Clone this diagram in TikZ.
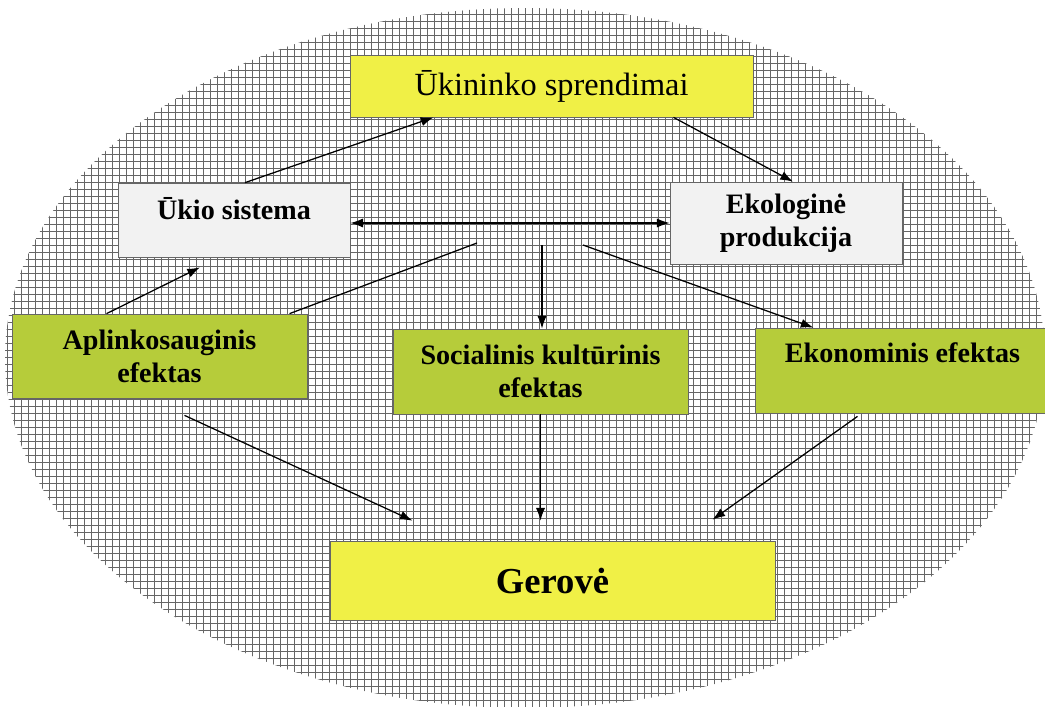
\documentclass[tikz,border=0pt]{standalone}
\usepackage{fontspec}
\setmainfont{Liberation Serif}
\usetikzlibrary{calc,arrows.meta}

\definecolor{yel}{RGB}{240,240,70}
\definecolor{grn}{RGB}{182,204,58}
\definecolor{lgr}{RGB}{242,242,242}
\tikzset{
  box/.style={draw=black!60, line width=0.5pt, inner sep=2pt, align=center,
    font=\bfseries\fontsize{20}{23.5}\selectfont},
  ybox/.style={box, fill=yel},
  gbox/.style={box, fill=grn},
  wbox/.style={box, fill=lgr},
  tip/.tip={Latex[length=9pt,width=6.5pt]},
  arr/.style={-tip, line width=0.9pt},
}

\begin{document}
\begin{tikzpicture}[x=0.025cm,y=-0.025cm]
      \useasboundingbox (0,0) rectangle (1045,706) ;
      \begin{scope}
        \clip (525,358) ellipse (520 and 350) ;
        \draw[black!60, line width=0.45pt, step=0.175cm] (0,0) grid (1045,712) ;
      \end{scope}
      \node[ybox, font=\fontsize{23}{27}\selectfont, minimum width=10.075cm, minimum height=1.55cm] (Uk) at (551.5,86) {Ūkininko sprendimai} ;
      \node[wbox, minimum width=5.8cm, minimum height=1.85cm, text height=0.6cm, text depth=0.65cm] (Us) at (234,220) {Ūkio sistema} ;
      \node[wbox, minimum width=5.8cm, minimum height=2.05cm] (Ek) at (786,223) {Ekologinė\\produkcija} ;
      \node[gbox, minimum width=7.375cm, minimum height=2.1cm] (Ap) at (159.5,356) {Aplinkosauginis\\efektas} ;
      \node[gbox, minimum width=7.375cm, minimum height=2.125cm] (So) at (540.5,371.5) {Socialinis kultūrinis\\efektas} ;
      \node[gbox, minimum width=7.375cm, minimum height=2.125cm, text height=0.55cm, text depth=0.93cm] (Ec) at (902.5,370.5) {Ekonominis efektas} ;
      \node[ybox, font=\bfseries\fontsize{26}{30}\selectfont, minimum width=11.125cm, minimum height=1.975cm] (G) at (552.5,580.5) {Gerovė} ;
      \coordinate (h1) at (477,243) ;
      \coordinate (h2) at (542,245) ;
      \coordinate (h3) at (583,245) ;
      \draw[arr] ($(Us.north)+(11,0)$) -- ($(Uk.south)+(-118,0)$) ;
      \draw[arr] ($(Uk.south)+(122,0)$) -- ($(Ek.north)+(7,0)$) ;
      \draw[arr, tip-tip] ($(Us.east)+(0,3)$) -- (Ek.west) ;
      \draw[arr] ($(Ap.north)+(-53,0)$) -- ($(Us.south)+(-34,10)$) ;
      \draw[line width=0.9pt] ($(Ap.north)+(130,0)$) -- (h1) ;
      \draw[arr] (h2) -- (h2 |- So.north) ;
      \draw[arr] (h3) -- ($(Ec.north)+(-89,0)$) ;
      %\draw[arr] (Ap) -- (G) ;
      \draw[arr] ($(Ap.south)+(25,17)$) -- ($(G.north)+(-140,-20)$) ;
      \draw[arr] (So.south) -- ($(So.south |- G.north)+(0,-20)$) ;
      \draw[arr] ($(Ec.south)+(-45,3)$) -- ($(G.north)+(160,-21)$) ;
    \end{tikzpicture}
\end{document}
